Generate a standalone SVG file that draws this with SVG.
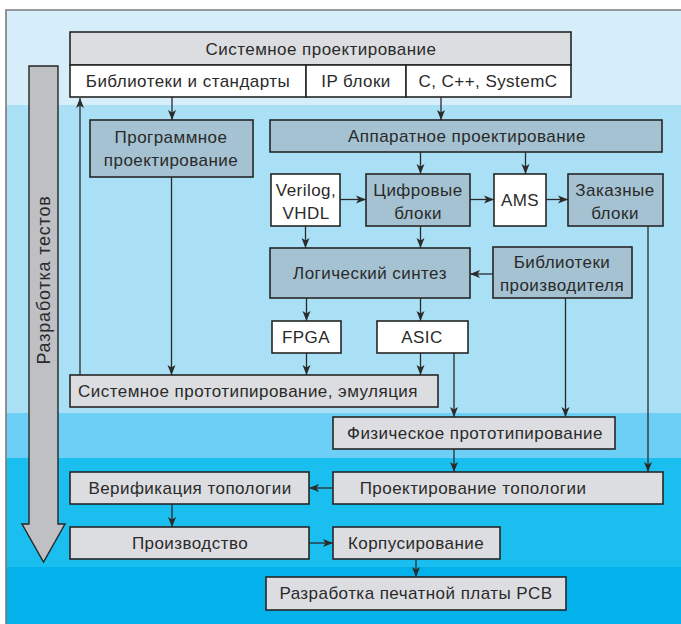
<svg xmlns="http://www.w3.org/2000/svg" width="681" height="624" viewBox="0 0 681 624">
<defs>
<marker id="ah" markerUnits="userSpaceOnUse" markerWidth="10" markerHeight="10" refX="10" refY="5" orient="auto">
<path d="M0,1 L10,5 L0,9 L2.5,5 Z" fill="#2b2b2b"/>
</marker>
<style>
.box{stroke:#262626;stroke-width:1.6}
.g{fill:#dcdde0}
.b{fill:#a4c2d1}
.w{fill:#ffffff}
.t{font-family:"Liberation Sans",Arial,sans-serif;font-size:17px;letter-spacing:0.45px;fill:#2a2a2a;text-anchor:middle}
.c line{stroke:#2b2b2b;stroke-width:1.3;fill:none;marker-end:url(#ah)}
</style>
</defs>
<rect x="0" y="0" width="681" height="624" fill="#ffffff"/>
<rect x="6" y="10" width="675" height="95" fill="#d6eefa"/>
<rect x="6" y="105" width="675" height="308" fill="#a9e0f6"/>
<rect x="6" y="413" width="675" height="45" fill="#6dcff5"/>
<rect x="6" y="458" width="675" height="109" fill="#1abff0"/>
<rect x="6" y="567" width="675" height="57" fill="#03b2eb"/>
<polyline points="6,624 6,10 681,10" fill="none" stroke="#7a7a7a" stroke-width="1.6"/>

<g id="tests-arrow">
<path d="M29,66 L58,66 L58,524 L65,524 L43.5,562 L22,524 L29,524 Z" fill="#bfc0c4" stroke="#262626" stroke-width="1.4"/>
<text class="t" x="44" y="286" transform="rotate(-90 44 280)" style="font-size:18px;letter-spacing:0.8px">Разработка  тестов</text>
</g>

<g id="system-design">
<rect class="box g" x="70" y="32" width="501" height="33"/>
<text class="t" x="321" y="55">Системное проектирование</text>
<rect class="box w" x="70" y="65" width="236" height="32"/>
<text class="t" x="188" y="87">Библиотеки и стандарты</text>
<rect class="box w" x="306" y="65" width="100" height="32"/>
<text class="t" x="356" y="87">IP блоки</text>
<rect class="box w" x="406" y="65" width="165" height="32"/>
<text class="t" x="488" y="87">C, C++, SystemC</text>
</g>

<g id="sw-design">
<rect class="box b" x="90" y="120" width="163" height="57"/>
<text class="t" x="171" y="143">Программное</text>
<text class="t" x="171" y="166">проектирование</text>
</g>

<g id="hw-design">
<rect class="box b" x="270" y="120" width="392" height="32"/>
<text class="t" x="467" y="142">Аппаратное проектирование</text>
</g>

<g id="verilog">
<rect class="box w" x="271" y="174" width="69" height="52"/>
<text class="t" x="306" y="196">Verilog,</text>
<text class="t" x="306" y="219">VHDL</text>
</g>

<g id="digital">
<rect class="box b" x="366" y="174" width="104" height="52"/>
<text class="t" x="418" y="196">Цифровые</text>
<text class="t" x="418" y="219">блоки</text>
</g>

<g id="ams">
<rect class="box w" x="494" y="174" width="52" height="52"/>
<text class="t" x="520" y="206">AMS</text>
</g>

<g id="custom">
<rect class="box b" x="568" y="174" width="95" height="52"/>
<text class="t" x="615" y="196">Заказные</text>
<text class="t" x="615" y="219">блоки</text>
</g>

<g id="synthesis">
<rect class="box b" x="270" y="248" width="200" height="50"/>
<text class="t" x="370" y="279">Логический синтез</text>
</g>

<g id="vendor-libs">
<rect class="box b" x="493" y="247" width="139" height="51"/>
<text class="t" x="562" y="268">Библиотеки</text>
<text class="t" x="562" y="291">производителя</text>
</g>

<g id="fpga">
<rect class="box w" x="272" y="321" width="69" height="32"/>
<text class="t" x="306" y="343">FPGA</text>
</g>

<g id="asic">
<rect class="box w" x="377" y="321" width="91" height="32"/>
<text class="t" x="422" y="343">ASIC</text>
</g>

<g id="sys-proto">
<rect class="box g" x="70" y="375" width="368" height="32"/>
<text class="t" x="248" y="397">Системное прототипирование, эмуляция</text>
</g>

<g id="phys-proto">
<rect class="box g" x="333" y="417" width="282" height="32"/>
<text class="t" x="475" y="439">Физическое прототипирование</text>
</g>

<g id="layout">
<rect class="box g" x="333" y="472" width="330" height="32"/>
<text class="t" x="473" y="494">Проектирование топологии</text>
</g>

<g id="layout-verif">
<rect class="box g" x="70" y="472" width="239" height="32"/>
<text class="t" x="190" y="494">Верификация топологии</text>
</g>

<g id="production">
<rect class="box g" x="70" y="527" width="239" height="32"/>
<text class="t" x="190" y="549">Производство</text>
</g>

<g id="packaging">
<rect class="box g" x="333" y="527" width="167" height="32"/>
<text class="t" x="416" y="549">Корпусирование</text>
</g>

<g id="pcb">
<rect class="box g" x="266" y="577" width="300" height="33"/>
<text class="t" x="416" y="599">Разработка печатной платы PCB</text>
</g>

<g id="connectors" class="c">
<line x1="172" y1="97" x2="172" y2="120"/>
<line x1="441" y1="97" x2="441" y2="120"/>
<line x1="80" y1="375" x2="80" y2="98"/>
<line x1="171.5" y1="177" x2="171.5" y2="375"/>
<line x1="420.5" y1="152" x2="420.5" y2="174"/>
<line x1="525.5" y1="152" x2="525.5" y2="174"/>
<line x1="340" y1="199.5" x2="366" y2="199.5"/>
<line x1="470" y1="199.5" x2="494" y2="199.5"/>
<line x1="546" y1="199.5" x2="568" y2="199.5"/>
<line x1="305.5" y1="226" x2="305.5" y2="248"/>
<line x1="420.5" y1="226" x2="420.5" y2="248"/>
<line x1="493" y1="274" x2="470" y2="274"/>
<line x1="306.5" y1="298" x2="306.5" y2="321"/>
<line x1="420.5" y1="298" x2="420.5" y2="321"/>
<line x1="306.5" y1="353" x2="306.5" y2="375"/>
<line x1="420.5" y1="353" x2="420.5" y2="375"/>
<line x1="454" y1="353" x2="454" y2="417"/>
<line x1="565.5" y1="298" x2="565.5" y2="417"/>
<line x1="648" y1="226" x2="648" y2="472"/>
<line x1="454" y1="449" x2="454" y2="472"/>
<line x1="333" y1="488" x2="309" y2="488"/>
<line x1="172" y1="504" x2="172" y2="527"/>
<line x1="309" y1="543" x2="333" y2="543"/>
<line x1="416" y1="559" x2="416" y2="577"/>
</g>
</svg>
